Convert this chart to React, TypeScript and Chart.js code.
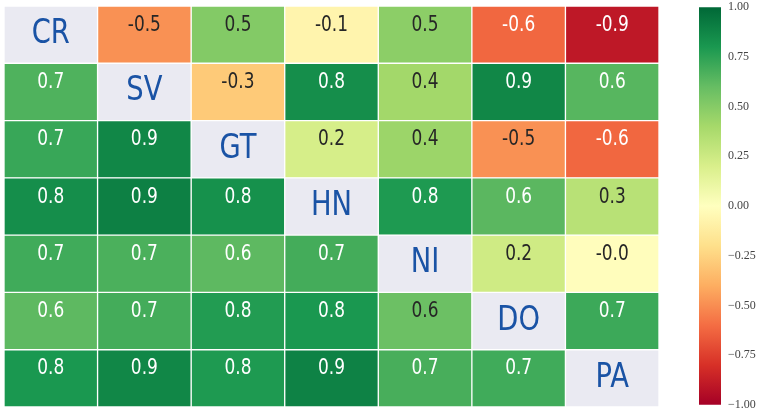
import React, { useEffect, useRef } from "react";
import { Chart, registerables } from "chart.js";

Chart.register(...registerables);

const countries = ["CR", "SV", "GT", "HN", "NI", "DO", "PA"];
// rows of the correlation matrix (null = diagonal)
const rowCR = [null, -0.49, 0.51, -0.07, 0.48, -0.62, -0.9];
const rowSV = [0.66, null, -0.29, 0.84, 0.41, 0.87, 0.64];
const rowGT = [0.72, 0.87, null, 0.21, 0.43, -0.49, -0.62];
const rowHN = [0.84, 0.9, 0.83, null, 0.79, 0.63, 0.33];
const rowNI = [0.7, 0.67, 0.62, 0.69, null, 0.24, -0.01];
const rowDO = [0.62, 0.69, 0.78, 0.8, 0.58, null, 0.71];
const rowPA = [0.8, 0.87, 0.79, 0.89, 0.68, 0.7, null];
const matrix: (number | null)[][] = [rowCR, rowSV, rowGT, rowHN, rowNI, rowDO, rowPA];

const colorbarTicks = [-1, -0.75, -0.5, -0.25, 0, 0.25, 0.5, 0.75, 1];

const cmapStops = [
  "#a50026", "#d73027", "#f46d43", "#fdae61", "#fee08b", "#ffffbf",
  "#d9ef8b", "#a6d96a", "#66bd63", "#1a9850", "#006837",
];

function hexToRgb(h: string): number[] {
  const n = parseInt(h.slice(1), 16);
  return [(n >> 16) & 255, (n >> 8) & 255, n & 255];
}

function cmapRgb(v: number): number[] {
  const t = Math.max(0, Math.min(1, (v + 1) / 2)) * 10;
  const i = Math.min(9, Math.floor(t));
  const f = t - i;
  const a = hexToRgb(cmapStops[i]);
  const b = hexToRgb(cmapStops[i + 1]);
  return [0, 1, 2].map((k) => Math.round(a[k] + (b[k] - a[k]) * f));
}

function rgbStr(c: number[]) {
  return `rgb(${c[0]},${c[1]},${c[2]})`;
}

function luminance(c: number[]) {
  const lin = c.map((x) => {
    const s = x / 255;
    return s <= 0.03928 ? s / 12.92 : Math.pow((s + 0.055) / 1.055, 2.4);
  });
  return 0.2126 * lin[0] + 0.7152 * lin[1] + 0.0722 * lin[2];
}

const DIAG = "#eaeaf2";
const LABEL_BLUE = "#1a53a5";

const textPlugin = {
  id: "cellText",
  afterDatasetsDraw(chart: any) {
    const ctx = chart.ctx;
    chart.data.datasets.forEach((_ds: any, j: number) => {
      const meta = chart.getDatasetMeta(j);
      meta.data.forEach((el: any, i: number) => {
        const p = el.getProps(["x", "y", "base", "height"], true);
        const cx = (p.x + p.base) / 2;
        const v = matrix[i][j];
        ctx.save();
        if (v === null) {
          ctx.font = "33px 'DejaVu Sans'";
          ctx.fillStyle = LABEL_BLUE;
          ctx.textAlign = "center";
          ctx.textBaseline = "alphabetic";
          ctx.translate(cx, p.y + 8.5);
          ctx.scale(0.83, 1);
          ctx.fillText(countries[i], 0, 0);
        } else {
          const c = cmapRgb(v);
          ctx.font = "21.5px 'DejaVu Sans'";
          ctx.fillStyle = luminance(c) > 0.408 ? "#262626" : "#ffffff";
          ctx.textAlign = "center";
          ctx.textBaseline = "alphabetic";
          ctx.translate(cx, p.y - 4);
          ctx.scale(0.79, 1);
          ctx.fillText(v.toFixed(1), 0, 0);
        }
        ctx.restore();
      });
    });
  },
};

export default function App() {
  const heatRef = useRef<HTMLCanvasElement>(null);
  const barRef = useRef<HTMLCanvasElement>(null);

  useEffect(() => {
    const datasets = countries.map((_c, j) => ({
      label: countries[j],
      data: countries.map(() => 1),
      backgroundColor: matrix.map((row) => {
        const v = row[j];
        return v === null ? DIAG : rgbStr(cmapRgb(v));
      }),
      borderColor: "#ffffff",
      borderWidth: 1,
      borderSkipped: false as any,
      barPercentage: 1,
      categoryPercentage: 1,
    }));

    const heat = new Chart(heatRef.current!, {
      type: "bar",
      data: { labels: countries, datasets },
      options: {
        indexAxis: "y",
        animation: false,
        responsive: false,
        layout: { padding: 0 },
        plugins: { legend: { display: false }, tooltip: { enabled: false } },
        scales: {
          x: { type: "linear", stacked: true, min: 0, max: 7, display: false },
          y: { type: "category", stacked: true, display: false },
        },
      },
      plugins: [textPlugin],
    });

    const bar = new Chart(barRef.current!, {
      type: "bar",
      data: {
        labels: [""],
        datasets: [
          {
            data: [[-1, 1]] as any,
            backgroundColor: (c: any) => {
              const area = c.chart.chartArea;
              if (!area) return "#ffffbf";
              const g = c.chart.ctx.createLinearGradient(0, area.bottom, 0, area.top);
              cmapStops.forEach((s, k) => g.addColorStop(k / 10, s));
              return g;
            },
            borderWidth: 0,
            barPercentage: 1,
            categoryPercentage: 1,
          },
        ],
      },
      options: {
        animation: false,
        responsive: false,
        layout: { padding: 0 },
        plugins: { legend: { display: false }, tooltip: { enabled: false } },
        scales: {
          x: { type: "category", display: false },
          y: {
            type: "linear",
            position: "right",
            min: -1,
            max: 1,
            afterBuildTicks: (s: any) => {
              s.ticks = colorbarTicks.map((v) => ({ value: v }));
            },
            afterFit: (s: any) => {
              s.width = 40;
            },
            grid: { display: false, drawTicks: false },
            border: { display: false },
            ticks: {
              padding: 7,
              color: "#444444",
              font: { family: "'Liberation Serif'", size: 12 },
              callback: (v: any) =>
                (v < 0 ? "\u2212" : "") + Math.abs(Number(v)).toFixed(2),
            },
          },
        },
      },
    });

    return () => {
      heat.destroy();
      bar.destroy();
    };
  }, []);

  return (
    <div
      style={{
        position: "fixed",
        left: 0,
        top: 0,
        width: 759,
        height: 408,
        overflow: "hidden",
        background: "#ffffff",
      }}
    >
      <canvas
        ref={heatRef}
        width={655}
        height={401}
        style={{ position: "absolute", left: 4, top: 6, width: 655, height: 401 }}
      />
      <canvas
        ref={barRef}
        width={62}
        height={426}
        style={{ position: "absolute", left: 699, top: -7, width: 62, height: 426 }}
      />
    </div>
  );
}
